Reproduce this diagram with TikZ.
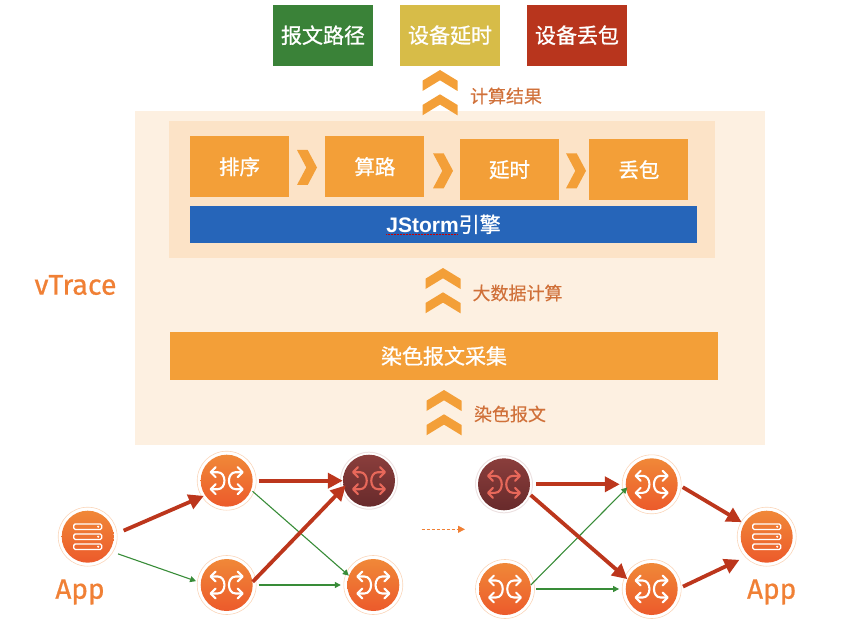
\documentclass[tikz,border=0pt]{standalone}
\usepackage{fontspec}
\usepackage{xcolor}
\usepackage{tikz}
\usetikzlibrary{arrows.meta,positioning}
\setmainfont{Noto Sans CJK SC}
\newfontfamily\boxfont[FakeBold=0.9]{Noto Sans CJK SC}
\newfontfamily\labelfont[FakeBold=0.25]{Noto Sans CJK SC}
\newfontfamily\latinfont[FakeBold=0.6]{Fira Sans}
\newfontfamily\enginefont{Liberation Sans}
\definecolor{pathgreen}{RGB}{58,130,56}
\definecolor{delayyellow}{RGB}{215,188,72}
\definecolor{lossred}{RGB}{184,53,29}
\definecolor{stepamber}{RGB}{243,159,56}
\definecolor{panelouter}{RGB}{253,240,225}
\definecolor{panelinner}{RGB}{252,227,199}
\definecolor{engineblue}{RGB}{38,101,185}
\definecolor{labelbrown}{RGB}{208,113,58}
\definecolor{nameorange}{RGB}{240,128,53}
\definecolor{swtop}{RGB}{240,136,56}
\definecolor{swbottom}{RGB}{236,90,43}
\definecolor{hottop}{RGB}{138,62,60}
\definecolor{hotbottom}{RGB}{104,42,43}
\definecolor{hoticon}{RGB}{232,104,90}
\definecolor{flowred}{RGB}{188,54,28}
\definecolor{flowgreen}{RGB}{56,140,56}
\tikzset{
  topbox/.style={
    rectangle,
    minimum width=99.3pt,
    minimum height=61pt,
    inner sep=0pt,
    text=white,
    font=\boxfont\fontsize{21}{21}\selectfont
  },
  stepbox/.style={
    rectangle,
    fill=stepamber,
    minimum width=99pt,
    minimum height=61pt,
    inner sep=0pt,
    text=white,
    font=\boxfont\fontsize{20.5}{20}\selectfont
  },
  steplabel/.style={
    inner sep=0pt,
    text=labelbrown,
    font=\labelfont\fontsize{18}{18}\selectfont
  },
  swnode/.style={
    circle,
    minimum size=52pt,
    inner sep=0pt,
    top color=swtop,
    bottom color=swbottom
  },
  hotnode/.style={
    circle,
    minimum size=52pt,
    inner sep=0pt,
    top color=hottop,
    bottom color=hotbottom
  },
  appname/.style={
    inner sep=0pt,
    text=nameorange,
    font=\latinfont\fontsize{28}{28}\selectfont
  },
  redflow/.style={
    -{Triangle[length=15pt,width=15pt]},
    line width=3.8pt,
    draw=flowred
  },
  greenflow/.style={
    -{Triangle[length=6pt,width=6pt]},
    line width=1.1pt,
    draw=flowgreen
  },
  ringline/.style={line width=0.6pt, draw=swtop!35},
  swicon/.pic={
    \draw[pic actions, line width=2.1pt]
      (-15,-8.5) -- (-9,-8.5) .. controls (0,-8.5) and (0,8.5) .. (-9,8.5) -- (-15,8.5);
    \draw[pic actions, line width=2.1pt]
      (15,-8.5) -- (9,-8.5) .. controls (0,-8.5) and (0,8.5) .. (9,8.5) -- (15,8.5);
    \foreach \sx/\sy in {-1/-1,-1/1,1/-1,1/1} {
      \draw[pic actions, line width=2.1pt, line cap=round, line join=round]
        (\sx*11,\sy*8.5-5) -- (\sx*16,\sy*8.5) -- (\sx*11,\sy*8.5+5);
    }
  },
  serverpic/.pic={
    \foreach \rowy in {-10,0,10} {
      \draw[white, line width=1.3pt, rounded corners=1.5pt] (-14,\rowy-2.8) rectangle (14,\rowy+2.8);
      \fill[white] (10.5,\rowy) circle[radius=1.2];
    }
  },
  upchevrons/.pic={
    \foreach \chevy in {0,24.3} {
      \fill[stepamber] (0,\chevy) -- (17.5,\chevy+10.7) -- (17.5,\chevy+21) -- (0,\chevy+10.3)
        -- (-17.5,\chevy+21) -- (-17.5,\chevy+10.7) -- cycle;
    }
  },
  rightchevron/.pic={
    \fill[stepamber] (0,0) -- (10.7,0) -- (20,17.5) -- (10.7,35) -- (0,35) -- (9.3,17.5) -- cycle;
  }
}
\begin{document}
\begin{tikzpicture}[x=1pt,y=-1pt]
\useasboundingbox (0,0) rectangle (862,639);

% vTrace panel
\node[fill=panelouter, minimum width=630pt, minimum height=334pt, inner sep=0pt] (outer) at (450,278) {};
\node[fill=panelinner, minimum width=546pt, minimum height=137pt, inner sep=0pt] (inner) at (442,189.5) {};

% results
\node[topbox, fill=pathgreen] (route) at (323,35.2) {报文路径};
\node[topbox, fill=delayyellow, right=27.3pt of route] (delay) {设备延时};
\node[topbox, fill=lossred, right=27.3pt of delay] (loss) {设备丢包};
\pic at (440,70) {upchevrons};
\node[steplabel] (resultlabel) at (506,96) {计算结果};

\node[stepbox] (sort) at (239.5,166.7) {排序};
\node[stepbox, right=36pt of sort] (calc) {算路};
\node[stepbox] (latency) at (509.5,169.7) {延时};
\node[stepbox, right=30pt of latency] (drop) {丢包};
\pic at (297,150) {rightchevron};
\pic at (433,153.3) {rightchevron};
\pic at (566,153.3) {rightchevron};
\node[fill=engineblue, minimum width=507pt, minimum height=37.5pt, inner sep=0pt, text=white, font=\fontsize{21}{21}\selectfont] (engine) at (443.5,224.3) {{\enginefont\bfseries JStorm}\boxfont 引擎};
\draw[red!80!black, line width=0.5pt, densely dotted] (386,234.5) -- (457,234.5);
\pic at (443,268) {upchevrons};
\node[steplabel] (biglabel) at (517.5,293) {大数据计算};
\node[fill=stepamber, minimum width=548pt, minimum height=48pt, inner sep=0pt, text=white, font=\boxfont\fontsize{21}{21}\selectfont] (collect) at (444,356) {染色报文采集};
\pic at (444,390) {upchevrons};
\node[steplabel] (dyelabel) at (510,414) {染色报文};
\node[inner sep=0pt, text=nameorange, font=\latinfont\fontsize{28.5}{28}\selectfont] (vtrace) at (75.5,285) {vTrace};

% left network
\node[swnode] (appl) at (87.7,536.7) {};
\node[swnode] (swa) at (226.7,480.7) {};
\node[swnode] (swb) at (226.7,585) {};
\node[hotnode] (hota) at (369,480.7) {};
\node[swnode] (swc) at (373.3,585) {};
\node[appname] (appltext) at (80,592) {App};

% right network
\node[hotnode] (hotb) at (504,484.3) {};
\node[swnode] (swd) at (505,589) {};
\node[swnode] (swe) at (651.7,484.3) {};
\node[swnode] (swf) at (651.7,589) {};
\node[swnode] (appr) at (766.7,536.7) {};
\node[appname] (apprtext) at (771.7,592) {App};

\foreach \nd in {swa,swb,swc,swd,swe,swf} {
  \draw[ringline] (\nd) circle[radius=29.5];
  \pic[draw=white] at (\nd) {swicon};
}
\foreach \nd in {hota,hotb} {
  \draw[line width=1pt, draw=hottop!15] (\nd) circle[radius=28.5];
  \pic[draw=hoticon] at (\nd) {swicon};
}
\foreach \nd in {appl,appr} {
  \draw[ringline] (\nd) circle[radius=29.5];
  \pic at (\nd) {serverpic};
}

\draw[greenflow, shorten <=8.8pt, shorten >=4.8pt] (appl.-33.6) -- (swb.175);
\draw[greenflow, shorten <=1.9pt] (swa.-21) -- (swc.159);
\draw[greenflow, shorten <=5.6pt, shorten >=6.3pt] (swb.east) -- (swc.west);
\draw[redflow, shorten <=10.7pt, shorten >=1.3pt] (appl.4) -- (swa.214);
\draw[redflow, shorten <=5.6pt] (swa.east) -- (hota.west);
\draw[redflow, shorten >=-3pt] (swb.7) -- (hota.195);

\coordinate (dashstart) at (421.7,529.3);
\coordinate (dashend) at (465,529.3);
\draw[-{Triangle[length=7pt,width=7pt]}, line width=0.9pt, draw=nameorange, densely dashed] (dashstart) -- (dashend);

\draw[greenflow, shorten >=-2pt] (swd.9) -- (swe.190);
\draw[greenflow, shorten <=5pt, shorten >=6.4pt] (swd.east) -- (swf.west);
\draw[redflow, shorten <=6pt, shorten >=5.7pt] (hotb.east) -- (swe.west);
\draw[redflow, shorten <=2.8pt] (hotb.-20) -- (swf.158);
\draw[redflow, shorten <=5.6pt, shorten >=2.7pt] (swe.east) -- (appr.150.7);
\draw[redflow, shorten <=5.6pt, shorten >=10pt] (swf.east) -- (appr.226);
\end{tikzpicture}
\end{document}
